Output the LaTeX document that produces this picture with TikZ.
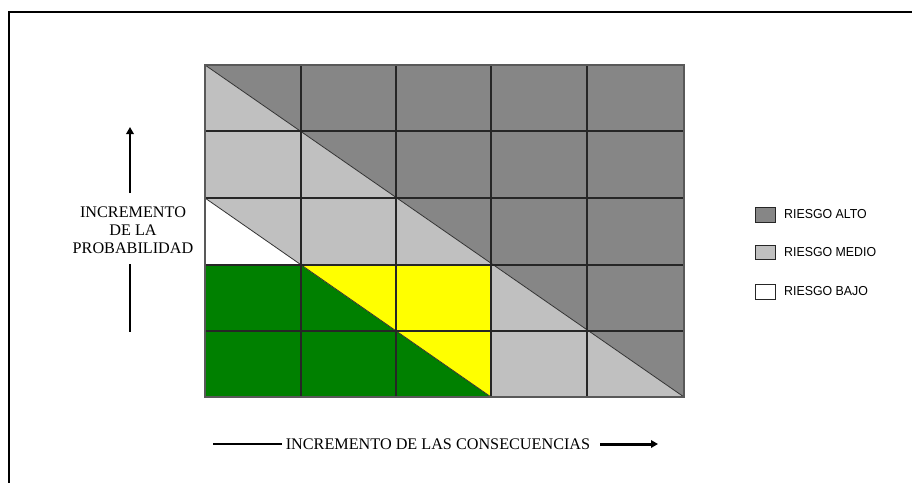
\documentclass[tikz,border=0pt]{standalone}
\usepackage{fontspec}
\setmainfont{Liberation Serif}
\newfontfamily\legfont{Liberation Sans}
\usetikzlibrary{arrows.meta}
\definecolor{alto}{HTML}{868686}
\definecolor{medio}{HTML}{C0C0C0}
\definecolor{verde}{HTML}{008000}
\definecolor{amar}{HTML}{FFFF00}
\begin{document}
\begin{tikzpicture}[x=1pt,y=-1pt,
  gridline/.style={draw=black!85,line width=1.2pt},
  diagline/.style={draw=black!80,line width=0.8pt},
  axistext/.style={font=\fontsize{16.2}{18}\selectfont,inner sep=0pt,align=center},
  legbox/.style={draw=black!85,line width=1pt},
  legtext/.style={font=\legfont\fontsize{13}{15}\selectfont,anchor=west,inner sep=0pt},
  thinaxis/.style={line width=1.8pt},
  arrowaxis/.style={line width=2.4pt,-{Triangle[length=7pt,width=7.5pt]}}]
\useasboundingbox (0,0) rectangle (912,482);
\fill[white] (0,0) rectangle (912,482);
% frame
\draw[line width=2pt] (9,484) -- (9,11.5) -- (914,11.5);
% regions
\fill[alto] (205,65) -- (684,65) -- (684,397) -- cycle;
\fill[medio] (205,65) -- (684,397) -- (491,397) -- (491,265) -- (301,265) -- (205,198) -- cycle;
\fill[white] (205,198) -- (301,265) -- (205,265) -- cycle;
\fill[verde] (205,265) -- (301,265) -- (491,397) -- (205,397) -- cycle;
\fill[amar] (301,265) -- (491,265) -- (491,397) -- cycle;
% diagonals
\draw[diagline] (205,65) -- (684,397);
\draw[diagline] (205,198) -- (491,397);
% grid
\foreach \gx in {301,396,491,587} \draw[gridline] (\gx,65) -- (\gx,397);
\foreach \gy in {131,198,265,331} \draw[gridline] (205,\gy) -- (684,\gy);
\draw[draw=black!65,line width=1.3pt] (205,65) rectangle (684,397);
% vertical axis
\node[axistext] (prob) at (133,230) {INCREMENTO\\DE LA\\PROBABILIDAD};
\coordinate (vtop) at (130,127);
\coordinate (vup) at (130,193);
\coordinate (vlo1) at (130,264);
\coordinate (vlo2) at (130,332);
\draw[arrowaxis] (vup) -- (vtop);
\draw[thinaxis] (vlo1) -- (vlo2);
% horizontal axis
\node[axistext] (cons) at (438,444) {INCREMENTO DE LAS CONSECUENCIAS};
\coordinate (hl1) at (213,444);
\coordinate (hl2) at (282,444);
\coordinate (ha1) at (600,444);
\coordinate (ha2) at (658,444);
\draw[thinaxis] (hl1) -- (hl2);
\draw[arrowaxis,line width=3pt] (ha1) -- (ha2);
% legend
\draw[legbox,fill=alto] (755,207) rectangle (775,222);
\node[legtext] (lalto) at (784,214.5) {\scalebox{0.95}[1]{RIESGO ALTO}};
\draw[legbox,fill=medio] (755,245) rectangle (775,259);
\node[legtext] (lmedio) at (784,252) {\scalebox{0.95}[1]{RIESGO MEDIO}};
\draw[legbox,fill=white] (755,284) rectangle (775,299);
\node[legtext] (lbajo) at (784,291.5) {\scalebox{0.95}[1]{RIESGO BAJO}};
\end{tikzpicture}
\end{document}
